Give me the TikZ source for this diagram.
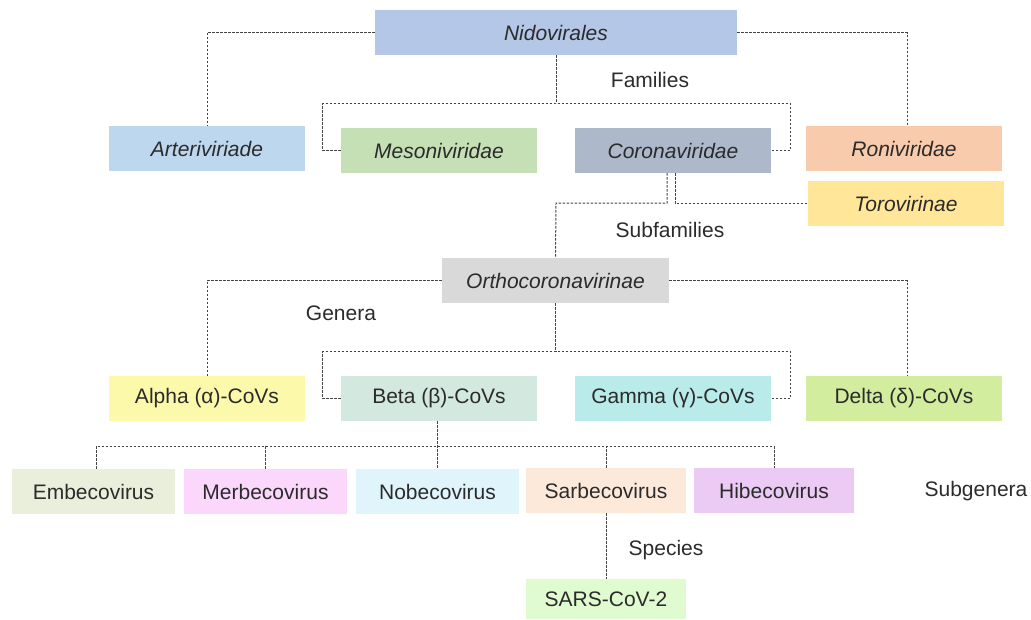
\documentclass[tikz,border=0pt]{standalone}
\usepackage{fontspec}
\setmainfont{Liberation Sans}
\usepackage{tikz}
\usetikzlibrary{positioning, calc}

\definecolor{txt}{HTML}{2B2B2B}
\definecolor{lnk}{HTML}{444444}
\definecolor{cNido}{HTML}{B4C7E7}
\definecolor{cArteri}{HTML}{BDD7EE}
\definecolor{cMeso}{HTML}{C5E0B4}
\definecolor{cCorona}{HTML}{ADB9CA}
\definecolor{cRoni}{HTML}{F8CBAD}
\definecolor{cToro}{HTML}{FFE699}
\definecolor{cOrtho}{HTML}{D9D9D9}
\definecolor{cAlpha}{HTML}{FDF9AB}
\definecolor{cBeta}{HTML}{D3E9E0}
\definecolor{cGamma}{HTML}{B9EBEB}
\definecolor{cDelta}{HTML}{D3ED9F}
\definecolor{cEmbeco}{HTML}{EAEFDC}
\definecolor{cMerbeco}{HTML}{FCD7FC}
\definecolor{cNobeco}{HTML}{DFF5FB}
\definecolor{cSarbeco}{HTML}{FDE9D9}
\definecolor{cHibeco}{HTML}{EBCBF3}
\definecolor{cSars}{HTML}{E0FBCF}

\tikzset{
    taxon/.style={minimum width=196pt, minimum height=45pt, inner sep=0pt, text=txt, font=\fontsize{21}{24}\selectfont},
    subtaxon/.style={taxon, minimum width=163pt},
    rank/.style={text=txt, font=\fontsize{21}{24}\selectfont, inner sep=0pt},
    link/.style={draw=lnk, line width=1pt, dash pattern=on 2.5pt off 1.5pt}
}

\begin{document}
\begin{tikzpicture}[x=1pt, y=-1pt]
    \useasboundingbox (0,0) rectangle (1031,619);

    % order and families
    \node[taxon, fill=cNido, minimum width=362pt] (nido) at (556,32.5) {\itshape Nidovirales};
    \node[taxon, fill=cArteri]  (arteri) at (207,148.5) {\itshape Arteriviriade};
    \node[taxon, fill=cMeso]    (meso)   at (439,150.5) {\itshape Mesoniviridae};
    \node[taxon, fill=cCorona]  (corona) at (673,150.5) {\itshape Coronaviridae};
    \node[taxon, fill=cRoni]    (roni)   at (904,148.5) {\itshape Roniviridae};
    \node[taxon, fill=cToro]    (toro)   at (906,203.5) {\itshape Torovirinae};

    % subfamily and genera
    \node[taxon, fill=cOrtho, minimum width=227pt] (ortho) at (555.5,280.5) {\itshape Orthocoronavirinae};
    \node[taxon, fill=cAlpha] (alpha) at (207,398.5) {Alpha (α)-CoVs};
    \node[taxon, fill=cBeta]  (beta)  at (439,398.5) {Beta (β)-CoVs};
    \node[taxon, fill=cGamma] (gamma) at (673,398.5) {Gamma (γ)-CoVs};
    \node[taxon, fill=cDelta] (delta) at (904,398.5) {Delta (δ)-CoVs};

    % subgenera and species
    \node[subtaxon, fill=cEmbeco]  (embeco)  at (93.5,491.5)  {Embecovirus};
    \node[subtaxon, fill=cMerbeco] (merbeco) at (265.5,491.5) {Merbecovirus};
    \node[subtaxon, fill=cNobeco]  (nobeco)  at (437.5,491.5) {Nobecovirus};
    \node[subtaxon, fill=cSarbeco, minimum width=160pt] (sarbeco) at (606,490.5) {Sarbecovirus};
    \node[subtaxon, fill=cHibeco, minimum width=160pt]  (hibeco)  at (774,490.5) {Hibecovirus};
    \node[subtaxon, fill=cSars, minimum width=160pt, minimum height=40pt] (sars) at (606,599) {SARS-CoV-2};

    % rank labels
    \node[rank] (families)    at (650,80)  {Families};
    \node[rank] (subfamilies) at (670,230) {Subfamilies};
    \node[rank] (genera)      at (341,313) {Genera};
    \node[rank] (subgenera)   at (976,491) {Subgenera};
    \node[rank] (species)     at (666,550) {Species};

    % junctions
    \coordinate (famjoin) at ([yshift=-48pt]nido.south);
    \coordinate (subjoin) at ([yshift=-30pt]nido.south |- corona.south);
    \coordinate (genjoin) at ([yshift=-48pt]ortho.south);
    \coordinate (sgjoin)  at ([yshift=-25pt]beta.south);

    % links
    \draw[link] (nido.west) -| (arteri.north);
    \draw[link] (nido.east) -| ([xshift=3pt]roni.north);
    \draw[link] (nido.south) -- (famjoin);
    \draw[link] (meso.west) -- ++(-18,0) |- (famjoin) -| ([xshift=19pt]corona.east) -- (corona.east);

    \draw[link] ([xshift=-6pt]corona.south) |- (subjoin) -- (ortho.north);
    \draw[link] ([xshift=2pt]corona.south) |- (toro.west);

    \draw[link] (ortho.west) -| (alpha.north);
    \draw[link] (ortho.east) -| ([xshift=3pt]delta.north);
    \draw[link] (ortho.south) -- (genjoin);
    \draw[link] (beta.west) -- ++(-18,0) |- (genjoin) -| ([xshift=19pt]gamma.east) -- (gamma.east);

    \draw[link] ([xshift=-2pt]beta.south) -- ([xshift=-2pt]beta.south |- nobeco.north);
    \draw[link] ([xshift=3pt]embeco.north) |- ([xshift=-2pt]sgjoin) -| (hibeco.north);
    \draw[link] (merbeco.north) -- (merbeco.north |- sgjoin);
    \draw[link] (sarbeco.north) -- (sarbeco.north |- sgjoin);
    \draw[link] (sarbeco.south) -- (sars.north);
\end{tikzpicture}
\end{document}
